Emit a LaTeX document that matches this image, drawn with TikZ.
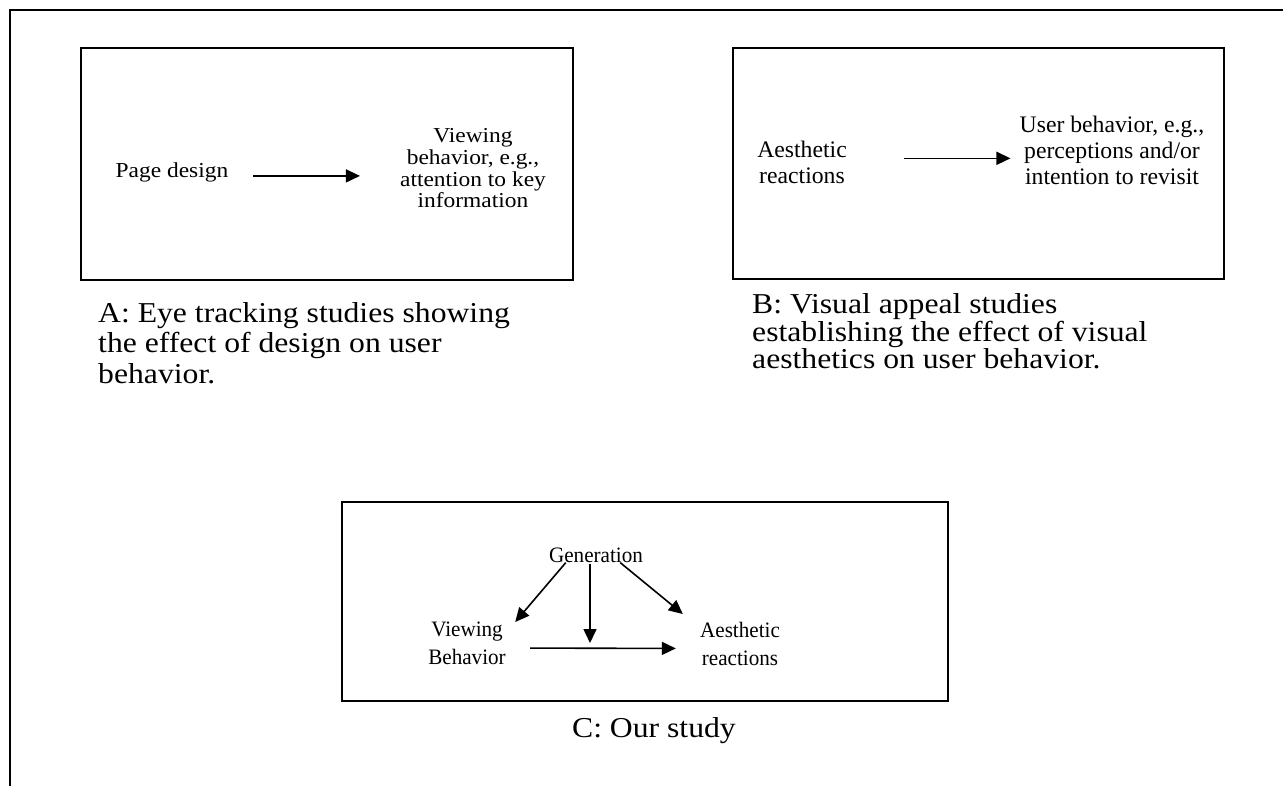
\documentclass[tikz,border=0pt]{standalone}
\usepackage{fontspec}
\setmainfont{Liberation Serif}
\newfontfamily\wideserif{Liberation Serif}[FakeStretch=1.1]
\newfontfamily\narrowserif{Liberation Serif}[FakeStretch=0.96]
\usetikzlibrary{arrows.meta,calc}
\newcommand\colorFrame{black}
\newcommand\panelLine{1.3pt}
\newcommand\arrowLine{1.6pt}
\tikzset{
	panel/.style={draw=\colorFrame, line width=\panelLine, inner sep=0pt},
	arr/.style={-{Triangle[length=14pt,width=13pt]}, line width=\arrowLine, color=\colorFrame},
	captiontext/.style={font=\wideserif\fontsize{28.8}{30.5}\selectfont, align=left, inner sep=0pt, anchor=north west},
	textA/.style={font=\wideserif\fontsize{21.3}{21.6}\selectfont, align=center, inner sep=0pt},
	textB/.style={font=\fontsize{23.7}{26}\selectfont, align=center, inner sep=0pt},
	textC/.style={font=\narrowserif\fontsize{22}{28}\selectfont, align=center, inner sep=0pt}
}

\begin{document}
\begin{tikzpicture}[x=1pt, y=-1pt]
	\useasboundingbox (0,0) rectangle (1283,786);
	\draw[color=\colorFrame, line width=2pt] (1283,10.3) -- (10.3,10.3) -- (10.3,786);
	
	% A
	\node[panel, minimum width=492pt, minimum height=232pt] (panelA) at (327,164) {};
	\node[textA, anchor=base] (pagedesign) at (172,178) {Page design};
	\node[textA, anchor=north] (viewA) at (473,128.5) {Viewing\\behavior, e.g.,\\attention to key\\information};
	\draw[arr] ($(pagedesign.east)+(24.7,3)$) -- ($(pagedesign.east -| viewA.west)+(-40,3)$);
	\node[captiontext] (capA) at (98,302.3) {A: Eye tracking studies showing\\the effect of design on user\\behavior.};
	
	% B
	\node[panel, minimum width=491pt, minimum height=231pt] (panelB) at (978.5,163.5) {};
	\node[textB, anchor=north] (aesB) at (802,140.8) {Aesthetic\\reactions};
	\node[textB, anchor=north] (userB) at (1112,115.8) {User behavior, e.g.,\\perceptions and/or\\intention to revisit};
	\draw[arr] ($(aesB.east)+(57,-4)$) -- ($(aesB.east -| userB.west)+(-9,-4)$);
	\node[captiontext, font=\wideserif\fontsize{28.8}{27.6}\selectfont] (capB) at (752,293.3) {B: Visual appeal studies\\establishing the effect of visual\\aesthetics on user behavior.};
	
	% C
	\node[panel, minimum width=606pt, minimum height=199pt] (panelC) at (645,601.5) {};
	\node[textC, anchor=base] (gen) at (596,562) {Generation};
	\node[textC, anchor=north] (viewC) at (467,622) {Viewing\\Behavior};
	\node[textC, anchor=north] (aesC) at (740,622) {Aesthetic\\reactions};
	\coordinate (mod) at (590,648);
	\draw[arr] ($(gen.south west)+(16.9,0.2)$) -- ($(viewC.north east)+(9.3,0)$);
	\draw[arr] ($(gen.south east)+(-22.9,0.2)$) -- ($(aesC.north west)+(-17.1,-8)$);
	\draw[arr, shorten >=5pt] ($(gen.south)+(-6,1.2)$) -- (mod);
	\draw[arr] ($(viewC.east)+(24.3,4.5)$) -- ($(aesC.west)+(-24.1,4.5)$);
	\node[captiontext, anchor=base] (capC) at (654,737) {C: Our study};
\end{tikzpicture}
\end{document}
